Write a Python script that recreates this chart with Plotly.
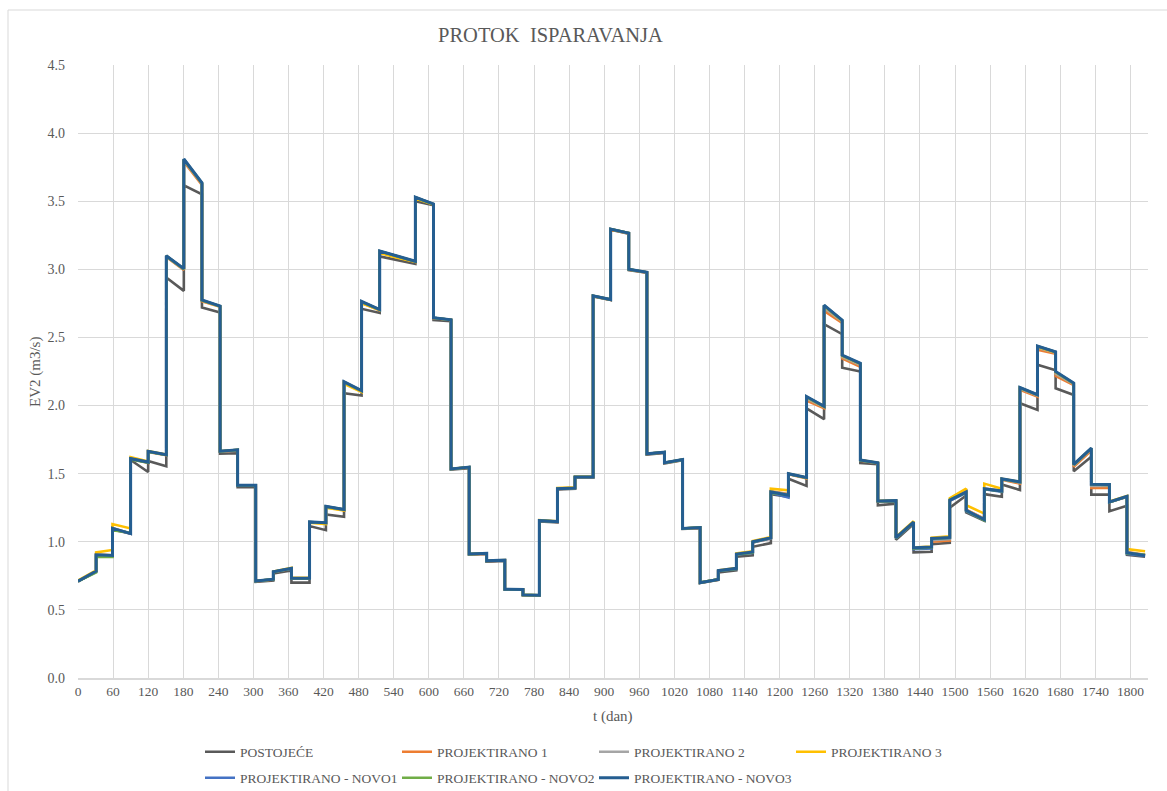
import plotly.graph_objects as go

# Calendar month lengths (days) and number of simulated years
MONTH_DAYS = [31, 28, 31, 30, 31, 30, 31, 31, 30, 31, 30, 31]
YEARS = 5

X_TICKS = list(range(0, 1801, 60))
Y_TICKS = [0.0, 0.5, 1.0, 1.5, 2.0, 2.5, 3.0, 3.5, 4.0, 4.5]

# Monthly evaporation flow EV2 (m3/s): (value on first day, value on last day)
POSTOJECE = [
    (0.71, 0.78), (0.90, 0.895), (1.09, 1.06), (1.60, 1.512), (1.593, 1.554), (2.94, 2.842),
    (3.617, 3.551), (2.72, 2.683), (1.646, 1.65), (1.40, 1.40), (0.705, 0.715), (0.768, 0.79),
    (0.70, 0.70), (1.115, 1.085), (1.20, 1.183), (2.09, 2.073), (2.71, 2.68), (3.095, 3.07),
    (3.07, 3.04), (3.50, 3.47), (2.627, 2.62), (1.53, 1.54), (0.905, 0.91), (0.855, 0.86),
    (0.65, 0.648), (0.608, 0.605), (1.15, 1.143), (1.385, 1.39), (1.47, 1.47), (2.80, 2.775),
    (3.29, 3.262), (2.995, 2.975), (1.64, 1.652), (1.575, 1.598), (1.095, 1.10), (0.698, 0.72),
    (0.775, 0.79), (0.89, 0.90), (0.963, 0.99), (1.35, 1.33), (1.463, 1.41), (1.98, 1.90),
    (2.598, 2.524), (2.278, 2.25), (1.578, 1.57), (1.268, 1.28), (1.015, 1.13), (0.922, 0.927),
    (0.983, 0.993), (1.25, 1.34), (1.215, 1.155), (1.35, 1.33), (1.42, 1.38), (2.017, 1.968),
    (2.30, 2.26), (2.127, 2.078), (1.517, 1.625), (1.346, 1.346), (1.224, 1.265), (0.905, 0.89),
]

PROJEKTIRANO_1 = [
    (0.71, 0.783), (0.905, 0.90), (1.10, 1.06), (1.61, 1.58), (1.66, 1.635), (3.09, 2.995),
    (3.79, 3.62), (2.765, 2.725), (1.662, 1.672), (1.413, 1.413), (0.71, 0.722), (0.778, 0.802),
    (0.73, 0.73), (1.143, 1.138), (1.255, 1.232), (2.17, 2.105), (2.755, 2.70), (3.13, 3.095),
    (3.095, 3.055), (3.525, 3.477), (2.642, 2.628), (1.533, 1.546), (0.908, 0.913), (0.858, 0.863),
    (0.651, 0.649), (0.609, 0.607), (1.153, 1.146), (1.388, 1.393), (1.473, 1.473), (2.803, 2.776),
    (3.293, 3.264), (2.998, 2.976), (1.644, 1.656), (1.578, 1.601), (1.097, 1.103), (0.699, 0.722),
    (0.786, 0.803), (0.908, 0.922), (0.995, 1.025), (1.37, 1.35), (1.495, 1.465), (2.036, 1.98),
    (2.695, 2.607), (2.346, 2.285), (1.595, 1.577), (1.295, 1.298), (1.03, 1.14), (0.95, 0.958),
    (1.00, 1.01), (1.30, 1.37), (1.235, 1.17), (1.39, 1.375), (1.455, 1.427), (2.115, 2.066),
    (2.41, 2.38), (2.217, 2.15), (1.55, 1.67), (1.395, 1.395), (1.29, 1.33), (0.925, 0.905),
]

PROJEKTIRANO_2 = [
    (0.71, 0.784), (0.905, 0.90), (1.10, 1.06), (1.61, 1.583), (1.663, 1.638), (3.095, 3.00),
    (3.80, 3.628), (2.77, 2.728), (1.664, 1.674), (1.414, 1.414), (0.711, 0.724), (0.779, 0.804),
    (0.731, 0.731), (1.145, 1.139), (1.258, 1.235), (2.172, 2.108), (2.76, 2.703), (3.133, 3.098),
    (3.098, 3.058), (3.528, 3.478), (2.644, 2.629), (1.534, 1.547), (0.909, 0.914), (0.859, 0.864),
    (0.652, 0.65), (0.61, 0.608), (1.154, 1.147), (1.389, 1.394), (1.474, 1.474), (2.804, 2.777),
    (3.294, 3.265), (2.999, 2.977), (1.645, 1.657), (1.579, 1.602), (1.098, 1.104), (0.70, 0.723),
    (0.787, 0.804), (0.909, 0.924), (0.998, 1.028), (1.368, 1.346), (1.498, 1.469), (2.052, 1.988),
    (2.716, 2.617), (2.358, 2.298), (1.598, 1.579), (1.298, 1.30), (1.03, 1.143), (0.953, 0.96),
    (1.012, 1.021), (1.303, 1.368), (1.233, 1.167), (1.39, 1.374), (1.459, 1.434), (2.124, 2.073),
    (2.424, 2.388), (2.234, 2.158), (1.56, 1.68), (1.41, 1.41), (1.292, 1.332), (0.922, 0.902),
]

PROJEKTIRANO_3 = [
    (0.715, 0.79), (0.922, 0.94), (1.13, 1.098), (1.622, 1.59), (1.665, 1.64), (3.10, 3.0),
    (3.805, 3.63), (2.77, 2.728), (1.665, 1.675), (1.415, 1.415), (0.712, 0.725), (0.782, 0.808),
    (0.735, 0.735), (1.14, 1.13), (1.25, 1.23), (2.16, 2.10), (2.75, 2.70), (3.12, 3.085),
    (3.085, 3.055), (3.52, 3.475), (2.643, 2.628), (1.535, 1.548), (0.91, 0.915), (0.86, 0.865),
    (0.652, 0.65), (0.61, 0.608), (1.158, 1.15), (1.395, 1.40), (1.478, 1.478), (2.805, 2.778),
    (3.295, 3.266), (3.0, 2.978), (1.646, 1.658), (1.58, 1.603), (1.098, 1.105), (0.70, 0.724),
    (0.79, 0.808), (0.915, 0.93), (1.005, 1.035), (1.39, 1.378), (1.50, 1.47), (2.06, 1.99),
    (2.73, 2.62), (2.365, 2.305), (1.60, 1.58), (1.30, 1.302), (1.035, 1.15), (0.958, 0.965),
    (1.03, 1.04), (1.32, 1.39), (1.268, 1.207), (1.427, 1.39), (1.462, 1.44), (2.13, 2.077),
    (2.43, 2.39), (2.245, 2.16), (1.565, 1.685), (1.42, 1.418), (1.295, 1.335), (0.946, 0.93),
]

NOVO_1 = [
    (0.71, 0.78), (0.90, 0.898), (1.095, 1.06), (1.61, 1.583), (1.663, 1.638), (3.098, 3.003),
    (3.807, 3.633), (2.773, 2.73), (1.664, 1.674), (1.414, 1.414), (0.711, 0.724), (0.779, 0.804),
    (0.731, 0.731), (1.145, 1.139), (1.258, 1.236), (2.173, 2.108), (2.762, 2.703), (3.133, 3.098),
    (3.098, 3.058), (3.528, 3.478), (2.644, 2.629), (1.534, 1.547), (0.909, 0.914), (0.859, 0.864),
    (0.652, 0.65), (0.61, 0.608), (1.155, 1.148), (1.39, 1.395), (1.475, 1.475), (2.805, 2.778),
    (3.295, 3.266), (3.0, 2.978), (1.646, 1.658), (1.58, 1.603), (1.098, 1.105), (0.70, 0.724),
    (0.785, 0.80), (0.905, 0.918), (0.995, 1.025), (1.36, 1.324), (1.498, 1.47), (2.064, 1.993),
    (2.735, 2.625), (2.368, 2.308), (1.598, 1.578), (1.298, 1.30), (1.025, 1.14), (0.945, 0.95),
    (1.02, 1.028), (1.30, 1.36), (1.225, 1.158), (1.385, 1.368), (1.46, 1.438), (2.131, 2.078),
    (2.435, 2.393), (2.248, 2.163), (1.566, 1.686), (1.42, 1.418), (1.29, 1.33), (0.912, 0.895),
]

NOVO_2 = [
    (0.71, 0.775), (0.89, 0.888), (1.085, 1.066), (1.605, 1.58), (1.662, 1.637), (3.097, 3.002),
    (3.806, 3.632), (2.772, 2.729), (1.664, 1.674), (1.414, 1.414), (0.711, 0.724), (0.779, 0.804),
    (0.731, 0.731), (1.145, 1.139), (1.258, 1.236), (2.173, 2.108), (2.762, 2.703), (3.133, 3.098),
    (3.098, 3.058), (3.528, 3.478), (2.644, 2.629), (1.534, 1.547), (0.909, 0.914), (0.859, 0.864),
    (0.652, 0.65), (0.61, 0.608), (1.155, 1.148), (1.39, 1.395), (1.475, 1.475), (2.805, 2.778),
    (3.295, 3.266), (3.0, 2.978), (1.646, 1.658), (1.58, 1.603), (1.098, 1.105), (0.70, 0.724),
    (0.786, 0.802), (0.907, 0.92), (0.998, 1.028), (1.358, 1.345), (1.498, 1.47), (2.064, 1.993),
    (2.735, 2.625), (2.368, 2.308), (1.598, 1.578), (1.298, 1.30), (1.028, 1.142), (0.952, 0.958),
    (1.022, 1.03), (1.31, 1.362), (1.228, 1.158), (1.388, 1.37), (1.46, 1.438), (2.131, 2.078),
    (2.435, 2.393), (2.248, 2.163), (1.566, 1.686), (1.42, 1.418), (1.29, 1.332), (0.915, 0.905),
]

NOVO_3 = [
    (0.71, 0.785), (0.905, 0.90), (1.10, 1.06), (1.61, 1.585), (1.665, 1.64), (3.10, 3.005),
    (3.81, 3.635), (2.775, 2.73), (1.665, 1.675), (1.415, 1.415), (0.712, 0.725), (0.78, 0.805),
    (0.732, 0.732), (1.146, 1.14), (1.26, 1.237), (2.175, 2.11), (2.765, 2.705), (3.135, 3.10),
    (3.10, 3.06), (3.53, 3.48), (2.645, 2.63), (1.535, 1.548), (0.91, 0.915), (0.86, 0.865),
    (0.652, 0.65), (0.61, 0.608), (1.155, 1.148), (1.39, 1.395), (1.475, 1.475), (2.805, 2.778),
    (3.295, 3.266), (3.00, 2.978), (1.646, 1.658), (1.58, 1.603), (1.098, 1.105), (0.70, 0.724),
    (0.788, 0.805), (0.91, 0.925), (1.00, 1.03), (1.366, 1.342), (1.50, 1.472), (2.066, 1.995),
    (2.737, 2.627), (2.37, 2.31), (1.60, 1.58), (1.30, 1.302), (1.03, 1.145), (0.956, 0.962),
    (1.024, 1.032), (1.305, 1.366), (1.23, 1.163), (1.39, 1.372), (1.462, 1.44), (2.133, 2.08),
    (2.437, 2.395), (2.25, 2.165), (1.568, 1.688), (1.422, 1.42), (1.293, 1.334), (0.92, 0.90),
]

# (legend label, values, colour, line width, legend box)
SERIES = [
    ("POSTOJEĆE", POSTOJECE, "#595959", 2.6, "legend"),
    ("PROJEKTIRANO 1", PROJEKTIRANO_1, "#ED7D31", 2.6, "legend"),
    ("PROJEKTIRANO 2", PROJEKTIRANO_2, "#A5A5A5", 2.6, "legend"),
    ("PROJEKTIRANO 3", PROJEKTIRANO_3, "#FFC000", 2.6, "legend"),
    ("PROJEKTIRANO - NOVO1", NOVO_1, "#4472C4", 2.6, "legend2"),
    ("PROJEKTIRANO - NOVO2", NOVO_2, "#70AD47", 2.6, "legend2"),
    ("PROJEKTIRANO - NOVO3", NOVO_3, "#255E91", 3.0, "legend3"),
]


def month_bounds():
    bounds = []
    day = 0
    for _ in range(YEARS):
        for n in MONTH_DAYS:
            bounds.append((day, day + n))
            day += n
    return bounds


def step_curve(pairs):
    xs, ys = [], []
    for (d0, d1), (v0, v1) in zip(month_bounds(), pairs):
        xs += [d0, d1]
        ys += [v0, v1]
    return xs, ys


FONT = "Liberation Serif, Times New Roman, serif"
TXT = "#595959"
GRID = "#D9D9D9"

fig = go.Figure()
for name, pairs, color, width, leg in SERIES:
    xs, ys = step_curve(pairs)
    fig.add_trace(go.Scatter(
        x=xs, y=ys, mode="lines", name=name, legend=leg,
        line=dict(color=color, width=width),
    ))

W, H = 1167, 791
ML, MR, MT, MB = 78, 19, 65, 113
pw = W - ML - MR
ph = H - MT - MB


def px_x(p):
    return (p - ML) / pw


def px_y(p):
    return (H - MB - p) / ph


def legend_box(x_px, y_px, entry):
    return dict(
        x=px_x(x_px), y=px_y(y_px),
        orientation="h", xanchor="left", yanchor="middle",
        font=dict(family=FONT, size=13.5, color=TXT),
        entrywidth=entry, entrywidthmode="pixels",
        bgcolor="rgba(0,0,0,0)", itemwidth=30, tracegroupgap=0,
    )


fig.update_layout(
    width=W, height=H,
    margin=dict(l=ML, r=MR, t=MT, b=MB, autoexpand=False),
    paper_bgcolor="white", plot_bgcolor="white",
    font=dict(family=FONT, color=TXT),
    showlegend=True,
    legend=legend_box(200, 752, 152),
    legend2=legend_box(200, 778, 152),
    legend3=legend_box(594, 778, 0),
    xaxis=dict(
        range=[0, 1830], tickvals=X_TICKS, ticktext=[str(v) for v in X_TICKS],
        showgrid=True, gridcolor=GRID, gridwidth=1,
        showline=True, linecolor=GRID, linewidth=1.5,
        zeroline=False, ticks="", ticklabelstandoff=0,
        tickfont=dict(family=FONT, size=13.5, color=TXT),
    ),
    yaxis=dict(
        range=[0, 4.5], tickvals=Y_TICKS, ticktext=[f"{v:.1f}" for v in Y_TICKS],
        showgrid=True, gridcolor=GRID, gridwidth=1,
        showline=False, zeroline=False, ticks="", ticklabelstandoff=12,
        tickfont=dict(family=FONT, size=14, color=TXT),
    ),
    annotations=[
        dict(text="PROTOK\u00a0\u00a0ISPARAVANJA", x=px_x(550), y=px_y(35),
             xref="paper", yref="paper", xanchor="center", yanchor="middle",
             showarrow=False, font=dict(family=FONT, size=20.5, color=TXT)),
        dict(text="t (dan)", x=px_x(613), y=px_y(716),
             xref="paper", yref="paper", xanchor="center", yanchor="middle",
             showarrow=False, font=dict(family=FONT, size=15, color=TXT)),
        dict(text="EV2 (m3/s)", x=px_x(35), y=px_y(372), textangle=-90,
             xref="paper", yref="paper", xanchor="center", yanchor="middle",
             showarrow=False, font=dict(family=FONT, size=15, color=TXT)),
    ],
    shapes=[
        dict(type="rect", xref="paper", yref="paper",
             x0=px_x(8), x1=px_x(1180), y0=px_y(800), y1=px_y(10),
             line=dict(color=GRID, width=1), fillcolor="rgba(0,0,0,0)", layer="below"),
    ],
)

fig.write_html("out.html")
